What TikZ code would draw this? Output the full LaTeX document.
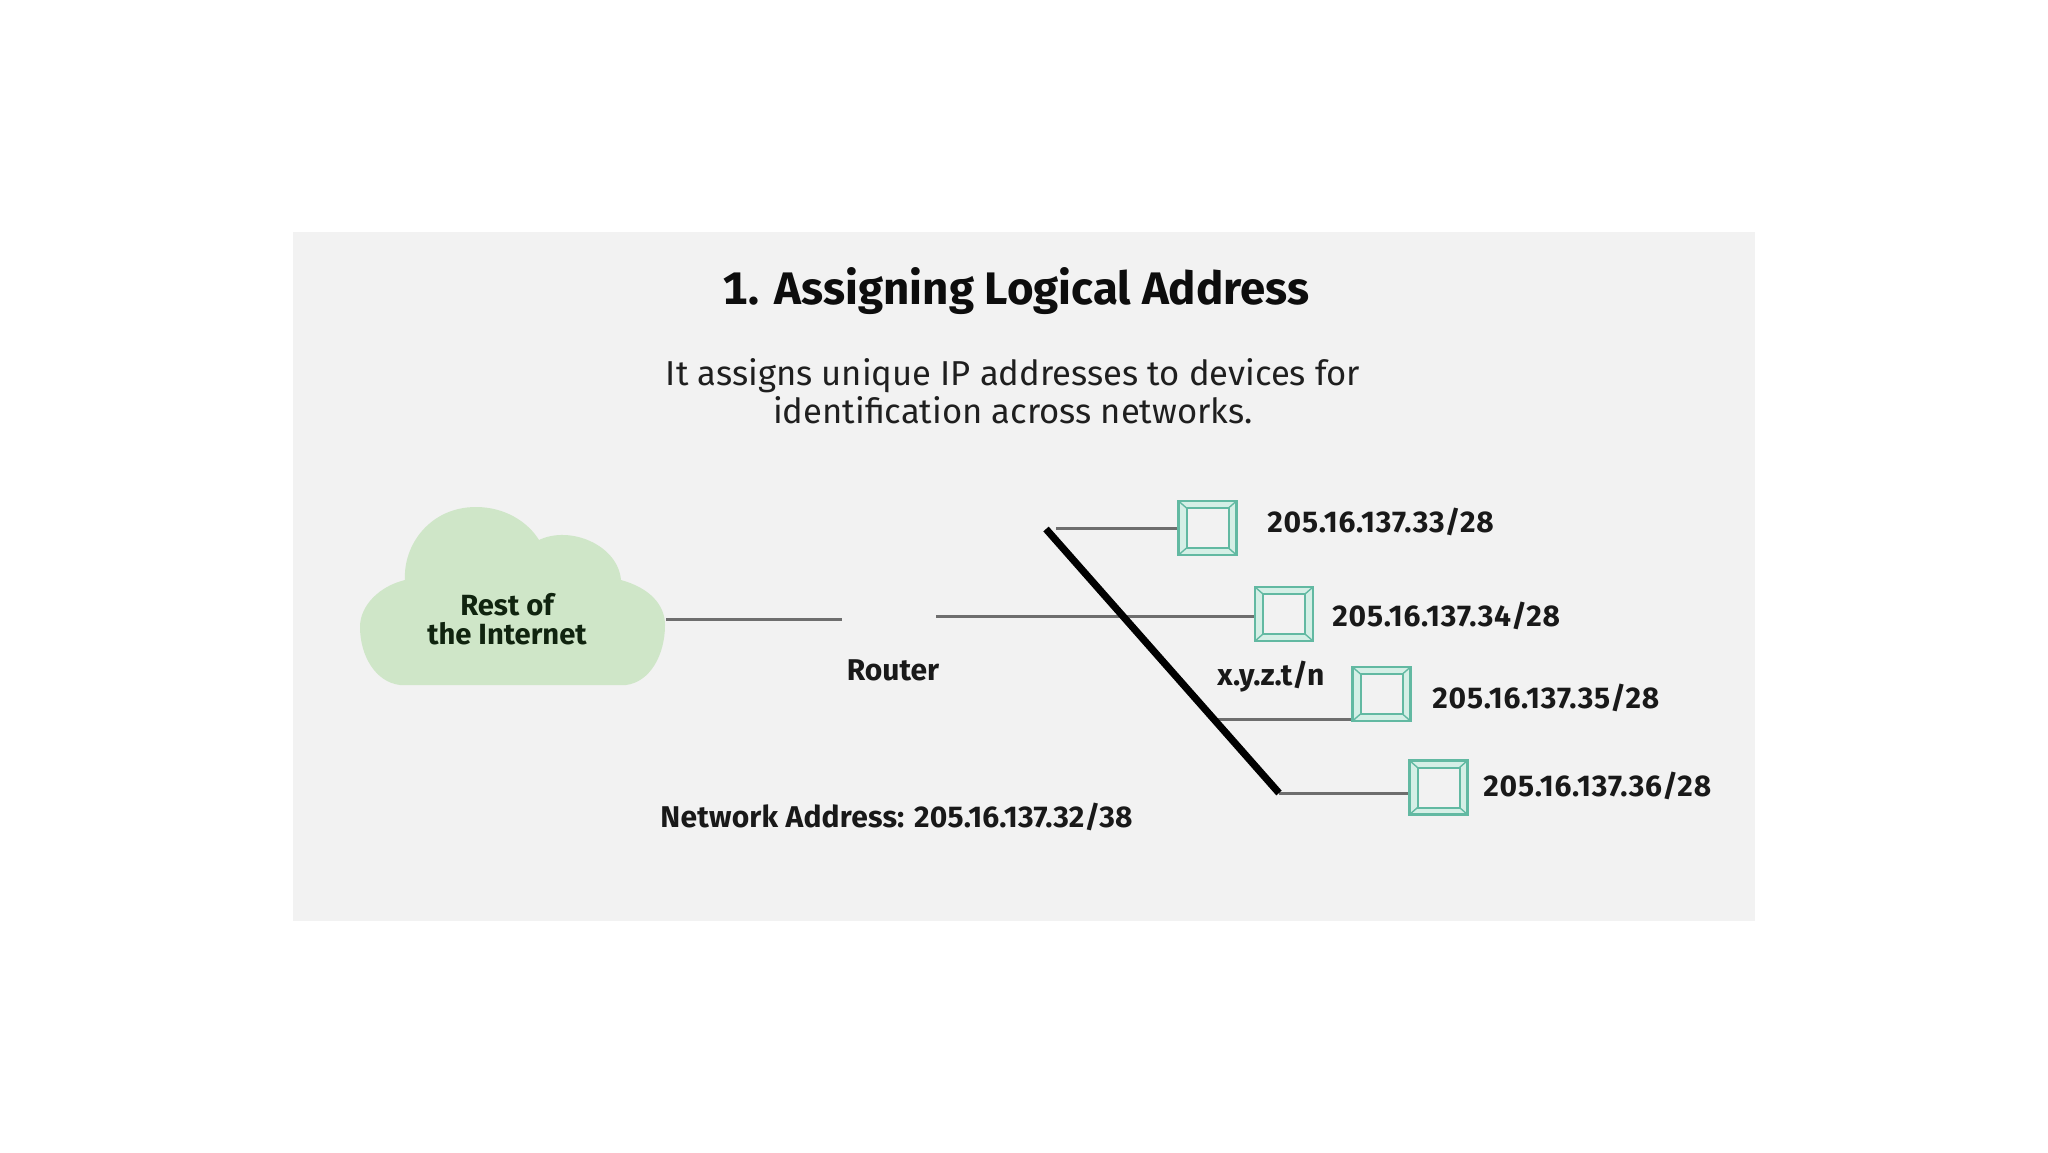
\documentclass[tikz,border=0pt]{standalone}
\usepackage{fontspec}
\setmainfont{Fira Sans}
\definecolor{panel}{HTML}{F2F2F2}
\definecolor{cloudg}{HTML}{CFE6C8}
\definecolor{teal1}{HTML}{62B9A2}
\definecolor{teal2}{HTML}{D5EFE6}
\definecolor{wire}{HTML}{6E6E6E}
\definecolor{inkg}{HTML}{10240F}
\tikzset{
  devbox/.style={draw=teal1,line width=1.4pt,fill=teal2,inner sep=0pt,minimum width=29pt,minimum height=27pt,
    path picture={
      \coordinate (pa) at (path picture bounding box.south west);
      \coordinate (pb) at (path picture bounding box.north east);
      \draw[teal1,line width=1pt,fill=panel] ([shift={(4pt,3.5pt)}]pa) rectangle ([shift={(-4pt,-3.5pt)}]pb);
      \draw[teal1,line width=.7pt] (pa) -- ++(4pt,3.5pt) (pb) -- ++(-4pt,-3.5pt);
      \draw[teal1,line width=.7pt] (pa|-pb) -- ++(4pt,-3.5pt) (pb|-pa) -- ++(-4pt,3.5pt);
    }},
  addr/.style={font=\fontsize{15}{17}\selectfont\bfseries\addfontfeature{LetterSpace=2.6},text=black!90,inner sep=0pt,anchor=west},
  plain/.style={font=\fontsize{15}{17}\selectfont\bfseries,text=black!90,inner sep=0pt},
  wireline/.style={draw=wire,line width=1.5pt},
  busline/.style={draw=black,line width=3.6pt}
}
\begin{document}
\begin{tikzpicture}[x=0.5pt,y=-0.5pt]
\useasboundingbox (0,0) rectangle (2048,1152);
\fill[white] (0,0) rectangle (2048,1152);
\fill[panel] (293,232) rectangle (1755,921);
% cloud
\fill[cloudg] (400,685) .. controls (375,682) and (360,655) .. (360,627)
  .. controls (360,605) and (380,586) .. (405,580)
  .. controls (403,545) and (430,507) .. (476,507)
  .. controls (505,507) and (528,522) .. (539,540)
  .. controls (570,525) and (618,545) .. (621,580)
  .. controls (650,588) and (665,605) .. (665,625)
  .. controls (665,655) and (650,682) .. (626,685) -- cycle;
\coordinate (cloudport) at (666,619);
\node[inner sep=0pt,text=inkg,align=center,font=\fontsize{14.6}{14.6}\selectfont\bfseries] (cloudtext) at (507,619) {Rest of\\the Internet};
\coordinate (routerw) at (842,619);
\coordinate (routere) at (936,616);
\node[plain] (router) at (893,670) {Router};
\node[plain,anchor=west,font=\fontsize{15}{17}\selectfont\bfseries\addfontfeature{LetterSpace=0.7}] (netaddr) at (660,817) {Network Address: 205.16.137.32/38};
% title
\node[inner sep=0pt,font=\fontsize{22.8}{26}\selectfont\bfseries\addfontfeature{Numbers=Tabular},text=black!95] (title) at (1016,291) {1.\hspace{8pt}Assigning Logical Address};
\node[inner sep=0pt,align=center,font=\fontsize{17.3}{19}\selectfont,text=black!88] (sub) at (1013,391) {It assigns unique IP addresses to devices for\\identification across networks.};
% devices
\node[devbox] (d1) at (1207.5,528) {};
\node[devbox] (d2) at (1284,614) {};
\node[devbox] (d3) at (1381.5,694) {};
\node[devbox] (d4) at (1438.5,787.5) {};
\node[addr] (a1) at (1267,522) {205.16.137.33/28};
\node[addr] (a2) at (1332,616) {205.16.137.34/28};
\node[addr] (a3) at (1432,698) {205.16.137.35/28};
\node[addr] (a4) at (1483,786) {205.16.137.36/28};
\node[plain,anchor=west] (xyzt) at (1217,677) {x.y.z.t/n};
% bus
\coordinate (bustop) at (1046,529);
\coordinate (busend) at (1279,793);
\coordinate (t1) at (1056,528);
\coordinate (t3) at (1218,719);
\draw[wireline] (cloudport) -- (routerw);
\draw[wireline] (routere) -- (d2.west|-routere);
\draw[wireline] (t1) -- (d1.west|-t1);
\draw[wireline] (t3) -- (d3.west|-t3);
\draw[wireline] (busend) -- (d4.west|-busend);
\draw[busline] (bustop) -- (busend);
\end{tikzpicture}
\end{document}
